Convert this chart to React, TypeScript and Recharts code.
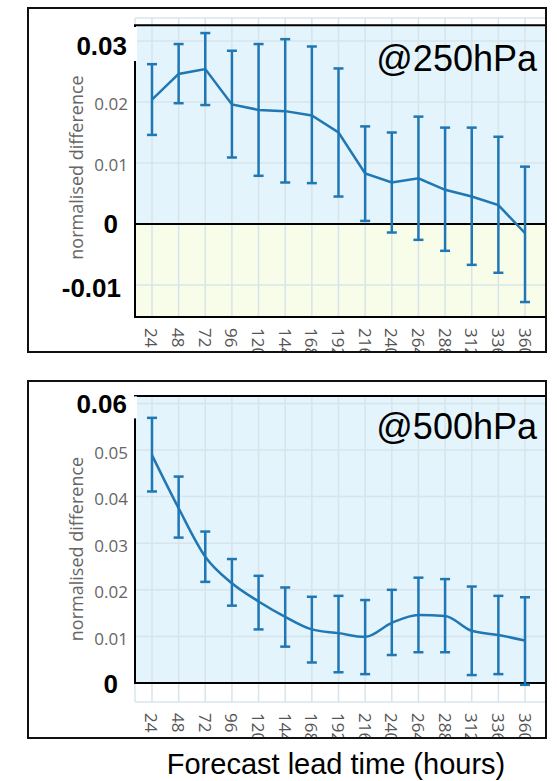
import {
  LineChart, Line, XAxis, YAxis, CartesianGrid, ReferenceArea, ReferenceLine, ErrorBar,
} from "recharts";

// forecast lead time (hours)
const HOURS = [24, 48, 72, 96, 120, 144, 168, 192, 216, 240, 264, 288, 312, 336, 360];
const X_DOMAIN: [number, number] = [8.7, 378.9];

// @250hPa
const MEAN_250 = [0.0204, 0.0246, 0.0254, 0.0196, 0.0187, 0.0185, 0.0178, 0.0150, 0.0083, 0.0068, 0.0075, 0.0056, 0.0045, 0.0031, -0.0015];
const UPPER_250 = [0.0262, 0.0295, 0.0313, 0.0284, 0.0295, 0.0303, 0.0291, 0.0255, 0.0160, 0.0150, 0.0176, 0.0158, 0.0158, 0.0143, 0.0094];
const LOWER_250 = [0.0146, 0.0198, 0.0195, 0.0109, 0.0079, 0.0068, 0.0067, 0.0045, 0.0005, -0.0014, -0.0026, -0.0044, -0.0067, -0.0080, -0.0128];
const TICKS_250 = [-0.01, 0, 0.01, 0.02, 0.03];

// @500hPa
const MEAN_500 = [0.0489, 0.0375, 0.0271, 0.0214, 0.0175, 0.0142, 0.0115, 0.0107, 0.0099, 0.0129, 0.0146, 0.0144, 0.0112, 0.0103, 0.0091];
const UPPER_500 = [0.0569, 0.0443, 0.0325, 0.0266, 0.0230, 0.0205, 0.0185, 0.0187, 0.0178, 0.0200, 0.0226, 0.0223, 0.0207, 0.0187, 0.0184];
const LOWER_500 = [0.0411, 0.0312, 0.0217, 0.0166, 0.0115, 0.0078, 0.0044, 0.0023, 0.0019, 0.0060, 0.0066, 0.0066, 0.0017, 0.0019, -0.0004];
const TICKS_500 = [0, 0.01, 0.02, 0.03, 0.04, 0.05, 0.06];

const LINE = "#1f77b4";
const BG_BLUE = "#e3f4fc";
const BG_YELLOW = "#f8fde9";
const GRID = "#d8e4ea";
const SANS = "'Liberation Sans', Arial, sans-serif";

type BoldCfg = Record<string, { dx: number; dy: number; patch?: [number, number] }>;

function rows(mean: number[], upper: number[], lower: number[]) {
  return HOURS.map((h, i) => ({
    hour: h,
    mean: mean[i],
    err: [mean[i] - lower[i], upper[i] - mean[i]],
  }));
}

function XTick(props: any) {
  const { x, y, payload } = props;
  return (
    <text
      x={x}
      y={y}
      transform={`rotate(90, ${x}, ${y})`}
      textAnchor="start"
      dominantBaseline="central"
      fontFamily="'Open Sans', sans-serif"
      fontSize={17}
      fill="#555"
    >
      {payload.value}
    </text>
  );
}

function makeYTick(bold: BoldCfg) {
  return function YTick(props: any) {
    const { x, y, payload } = props;
    const key = String(payload.value);
    const cfg = bold[key];
    if (cfg) {
      return (
        <g>
          {cfg.patch && (
            <rect x={x - 62} y={y + cfg.patch[0]} width={71} height={cfg.patch[1] - cfg.patch[0]} fill="#fff" />
          )}
          <text
            x={x + cfg.dx}
            y={y + cfg.dy}
            textAnchor="end"
            dominantBaseline="central"
            fontFamily={SANS}
            fontWeight="bold"
            fontSize={26}
            fill="#000"
          >
            {key}
          </text>
        </g>
      );
    }
    return (
      <text
        x={x}
        y={y + 2}
        textAnchor="end"
        dominantBaseline="central"
        fontFamily="'Open Sans', sans-serif"
        fontSize={17}
        fill="#666"
      >
        {key}
      </text>
    );
  };
}

interface PanelProps {
  data: ReturnType<typeof rows>;
  height: number;
  margin: { top: number; right: number; bottom: number; left: number };
  domain: [number, number];
  boxTop: number;
  boxBottom: number;
  ticks: number[];
  bold: BoldCfg;
  smooth: boolean;
}

function Panel({ data, height, margin, domain, boxTop, boxBottom, ticks, bold, smooth }: PanelProps) {
  return (
    <LineChart width={557} height={height} data={data} margin={margin}>
      <ReferenceArea y1={0} y2={boxTop} fill={BG_BLUE} fillOpacity={1} stroke="none" zIndex={-150} />
      {boxBottom < 0 && (
        <ReferenceArea y1={boxBottom} y2={0} fill={BG_YELLOW} fillOpacity={1} stroke="none" zIndex={-150} />
      )}
      <CartesianGrid stroke={GRID} strokeWidth={1.5} />
      <XAxis
        dataKey="hour"
        type="number"
        domain={X_DOMAIN}
        allowDataOverflow
        ticks={HOURS}
        interval={0}
        height={40}
        axisLine={false}
        tickLine={false}
        tickSize={0}
        tickMargin={11}
        tick={<XTick />}
      />
      <YAxis
        type="number"
        domain={domain}
        allowDataOverflow
        ticks={ticks}
        interval={0}
        width={135}
        axisLine={false}
        tickLine={false}
        tickSize={0}
        tickMargin={7}
        tick={makeYTick(bold)}
        label={{
          value: "normalised difference",
          angle: -90,
          position: "insideLeft",
          offset: 77,
          style: { textAnchor: "middle", fill: "#666", fontSize: 18, fontFamily: "'Open Sans', sans-serif" },
        }}
      />
      <ReferenceArea y1={boxBottom} y2={boxTop} fill="none" stroke="#000" strokeWidth={2} />
      <ReferenceLine y={0} stroke="#000" strokeWidth={2} />
      <Line
        type={smooth ? "monotone" : "linear"}
        dataKey="mean"
        stroke={LINE}
        strokeWidth={2.5}
        dot={false}
        activeDot={false}
        isAnimationActive={false}
      >
        <ErrorBar dataKey="err" width={5} strokeWidth={2.5} stroke={LINE} isAnimationActive={false} />
      </Line>
    </LineChart>
  );
}

const frame: React.CSSProperties = {
  position: "absolute",
  left: 27,
  width: 520,
  border: "2px solid #111",
  boxSizing: "border-box",
  overflow: "hidden",
  background: "#fff",
};

const tag: React.CSSProperties = {
  position: "absolute",
  right: 8,
  fontFamily: SANS,
  fontSize: 36,
  lineHeight: "36px",
  color: "#000",
  whiteSpace: "nowrap",
};

export default function App() {
  const d250 = rows(MEAN_250, UPPER_250, LOWER_250);
  const d500 = rows(MEAN_500, UPPER_500, LOWER_500);
  return (
    <div style={{ position: "absolute", left: 0, top: 0, width: 557, height: 781, background: "#fff" }}>
      <div style={{ ...frame, top: 7, height: 346 }}>
        <div style={{ position: "absolute", left: -29, top: -9 }}>
          <Panel
            data={d250}
            height={360}
            margin={{ top: 18, right: 11, bottom: 3, left: 0 }}
            domain={[-0.01525, 0.03377]}
            boxTop={0.0326}
            boxBottom={-0.01525}
            ticks={TICKS_250}
            bold={{ "0.03": { dx: -1, dy: 5, patch: [-14, 20] }, "0": { dx: -10, dy: 0 }, "-0.01": { dx: -7, dy: 3 } }}
            smooth={false}
          />
        </div>
        <div style={{ ...tag, top: 32 }}>@250hPa</div>
      </div>
      <div style={{ ...frame, top: 380, height: 359 }}>
        <div style={{ position: "absolute", left: -29, top: -4 }}>
          <Panel
            data={d500}
            height={370}
            margin={{ top: 18, right: 11, bottom: 6, left: 0 }}
            domain={[-0.00408, 0.06159]}
            boxTop={0.06159}
            boxBottom={0}
            ticks={TICKS_500}
            bold={{ "0.06": { dx: -1, dy: 1, patch: [-7, 15] }, "0": { dx: -10, dy: 1 } }}
            smooth={true}
          />
        </div>
        <div style={{ ...tag, top: 27 }}>@500hPa</div>
      </div>
      <div
        style={{
          position: "absolute",
          left: 0,
          width: 672,
          top: 750,
          textAlign: "center",
          fontFamily: SANS,
          fontSize: 29,
          lineHeight: "29px",
          color: "#000",
          whiteSpace: "nowrap",
        }}
      >
        Forecast lead time (hours)
      </div>
    </div>
  );
}
